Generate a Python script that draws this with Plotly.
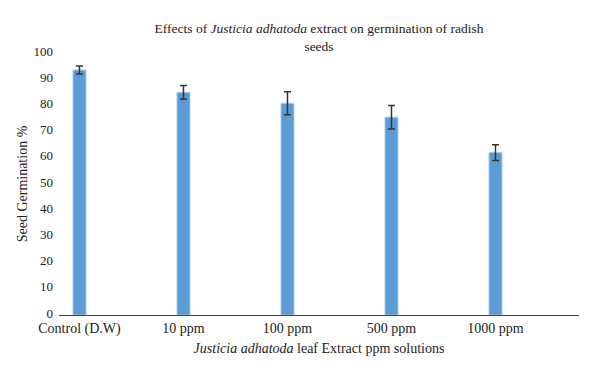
import plotly.graph_objects as go

categories = ["Control (D.W)", "10 ppm", "100 ppm", "500 ppm", "1000 ppm"]
germination = [93.5, 85.0, 80.8, 75.5, 62.0]
error = [1.5, 2.6, 4.4, 4.5, 3.0]

positions = list(range(len(categories)))

fig = go.Figure()
fig.add_trace(go.Bar(
    x=positions, y=germination, width=0.125,
    marker=dict(color="#5B9BD5", line=dict(color="#A9CBEA", width=1)),
    error_y=dict(type="data", array=error, color="#333333", thickness=1.5, width=3.5),
    showlegend=False,
))

font_family = "Liberation Serif, DejaVu Serif, serif"

fig.update_layout(
    width=600, height=374,
    paper_bgcolor="white", plot_bgcolor="white",
    margin=dict(l=51, r=29, t=45, b=67),
    font=dict(family=font_family, size=14, color="#222222"),
    title=dict(
        text="Effects of <i>Justicia adhatoda</i> extract on germination of radish<br>seeds",
        x=0.5, xref="paper", xanchor="center",
        y=1 - 25 / 374, yref="container", yanchor="top",
        font=dict(family=font_family, size=13.5, color="#222222"),
    ),
    xaxis=dict(
        range=[-0.197, 4.803],
        tickmode="array", tickvals=positions, ticktext=categories,
        showline=True, linecolor="#404040", linewidth=1.2,
        showgrid=False, zeroline=False, ticks="",
        tickfont=dict(size=14), ticklabelstandoff=0,
        title=dict(text="<i>Justicia adhatoda</i> leaf Extract ppm solutions",
                   font=dict(size=14), standoff=7),
    ),
    yaxis=dict(
        range=[0, 100], dtick=10,
        showline=False, showgrid=False, zeroline=False, ticks="",
        tickfont=dict(size=13), ticklabelstandoff=5, ticklabelshift=-2,
        title=dict(text="Seed Germination %", font=dict(size=14), standoff=2),
    ),
)

fig.write_html("out.html")
